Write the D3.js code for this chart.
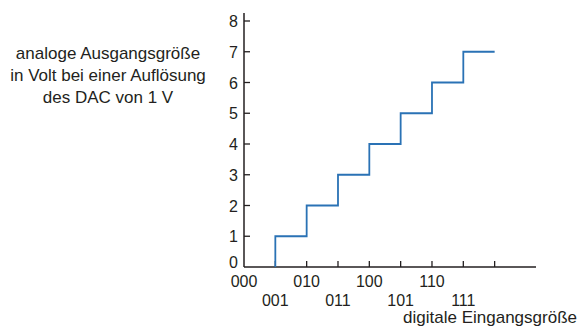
<!DOCTYPE html>
<html>
<head>
<meta charset="utf-8">
<script src="https://cdn.jsdelivr.net/npm/d3@7"></script>
<style>
  html, body { margin: 0; padding: 0; background: #fff; }
  svg { display: block; font-family: "Liberation Sans", Arial, sans-serif; }
</style>
</head>
<body>
<div id="chart"></div>
<script>
// digital input codes (position k on the x axis) and analog output level in volts
const codes = ["000", "001", "010", "011", "100", "101", "110", "111"];
const volts = [0, 1, 2, 3, 4, 5, 6, 7];
const yTicks = [0, 1, 2, 3, 4, 5, 6, 7, 8];
const xTicks = [1, 2, 3, 4, 5, 6, 7, 8];
const yTitle = ["analoge Ausgangsgröße", "in Volt bei einer Auflösung", "des DAC von 1 V"];
const xTitle = "digitale Eingangsgröße";

const W = 580, H = 329;
const ink = "#231f20", blue = "#2a72b5";

const svg = d3.select("#chart").append("svg").attr("width", W).attr("height", H);

const x = d3.scaleLinear().domain([0, 9.32]).range([244, 536]);
const y = d3.scaleLinear().domain([0, 8]).range([267, 21]);

// y axis: ticks point right, labels on the left
const gy = svg.append("g");
gy.append("line").attr("x1", x(0)).attr("x2", x(0)).attr("y1", 13).attr("y2", y(0))
  .attr("stroke", ink).attr("stroke-width", 1.5);
gy.selectAll("line.t").data(yTicks.slice(1)).join("line").attr("class", "t")
  .attr("x1", x(0)).attr("x2", x(0) + 6).attr("y1", d => y(d)).attr("y2", d => y(d))
  .attr("stroke", ink).attr("stroke-width", 1.3);
gy.selectAll("text").data(yTicks).join("text")
  .attr("x", 238).attr("y", d => Math.min(y(d) + 6, 268)).attr("text-anchor", "end")
  .attr("font-size", 16).attr("fill", ink).text(d => d);

// x axis: ticks point up, labels alternate on two rows
const gx = svg.append("g");
gx.append("line").attr("x1", x(0)).attr("x2", 536).attr("y1", y(0)).attr("y2", y(0))
  .attr("stroke", ink).attr("stroke-width", 1.5);
gx.selectAll("line.t").data(xTicks).join("line").attr("class", "t")
  .attr("x1", d => x(d)).attr("x2", d => x(d)).attr("y1", y(0)).attr("y2", y(0) - 6)
  .attr("stroke", ink).attr("stroke-width", 1.3);
gx.selectAll("text").data(codes).join("text")
  .attr("x", (d, i) => x(i)).attr("y", (d, i) => i % 2 ? 306 : 287)
  .attr("text-anchor", "middle").attr("font-size", 16).attr("fill", ink).text(d => d);

// staircase: code k gives k volts, held from k to k+1
const pts = [[1, 0]];
volts.slice(1).forEach((v, i) => { const k = i + 1; pts.push([k, v], [k + 1, v]); });
svg.append("path")
  .attr("d", d3.line().x(d => x(d[0])).y(d => y(d[1]))(pts))
  .attr("fill", "none").attr("stroke", blue).attr("stroke-width", 1.8);

// titles
svg.append("text").attr("x", 108).attr("y", 59).attr("text-anchor", "middle")
  .attr("font-size", 17).attr("fill", ink)
  .selectAll("tspan").data(yTitle).join("tspan")
  .attr("x", 108).attr("dy", (d, i) => i ? 22 : 0).text(d => d);
svg.append("text").attr("x", 577).attr("y", 323).attr("text-anchor", "end")
  .attr("font-size", 17).attr("fill", ink).text(xTitle);
</script>
</body>
</html>
